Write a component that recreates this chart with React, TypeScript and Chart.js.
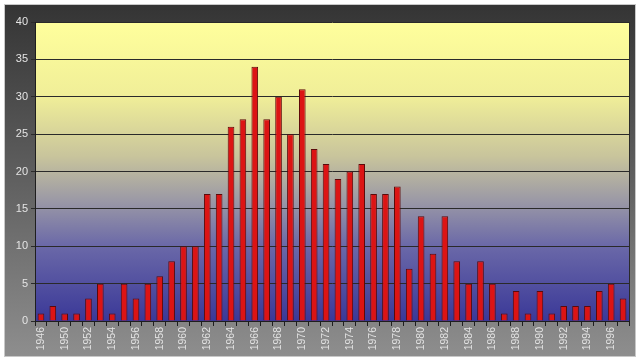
import React, { useEffect, useRef } from "react";
import { Chart, registerables } from "chart.js";

Chart.register(...registerables);

const years: string[] = [
  "1946", "1948", "1950", "1951", "1952", "1953", "1954", "1955", "1956", "1957",
  "1958", "1959", "1960", "1961", "1962", "1963", "1964", "1965", "1966", "1967",
  "1968", "1969", "1970", "1971", "1972", "1973", "1974", "1975", "1976", "1977",
  "1978", "1979", "1980", "1981", "1982", "1983", "1984", "1985", "1986", "1987",
  "1988", "1989", "1990", "1991", "1992", "1993", "1994", "1995", "1996", "1997",
];

const counts: number[] = [
  1, 2, 1, 1, 3, 5, 1, 5, 3, 5,
  6, 8, 10, 10, 17, 17, 26, 27, 34, 27,
  30, 25, 31, 23, 21, 19, 20, 21, 17, 17,
  18, 7, 14, 9, 14, 8, 5, 8, 5, 1,
  4, 1, 4, 1, 2, 2, 2, 4, 5, 3,
];

const yMin = 0;
const yMax = 40;
const yStep = 5;

const framePlugin = {
  id: "frame",
  beforeDraw(chart: any) {
    const { ctx, width, height, chartArea } = chart;
    ctx.save();
    ctx.fillStyle = "#ffffff";
    ctx.fillRect(0, 0, width, height);
    const g = ctx.createLinearGradient(0, 4, 0, 357);
    g.addColorStop(0, "#343434");
    g.addColorStop(0.5, "#606060");
    g.addColorStop(1, "#8e8e8e");
    ctx.fillStyle = g;
    ctx.fillRect(4, 4, 632, 353);
    ctx.strokeStyle = "#c8c8c8";
    ctx.lineWidth = 1;
    ctx.strokeRect(4.5, 4.5, 631, 352);
    const { left, right, top, bottom } = chartArea;
    const pg = ctx.createLinearGradient(0, top, 0, bottom);
    pg.addColorStop(0, "#ffff9c");
    pg.addColorStop(0.25, "#f0ee98");
    pg.addColorStop(0.45, "#c8c49c");
    pg.addColorStop(0.6, "#9a98a6");
    pg.addColorStop(0.75, "#6a68a8");
    pg.addColorStop(1, "#3a3898");
    ctx.fillStyle = pg;
    ctx.fillRect(left, top, right - left, bottom - top);
    ctx.restore();
  },
  afterDraw(chart: any) {
    const { ctx, chartArea } = chart;
    const { right, top, bottom } = chartArea;
    ctx.save();
    ctx.strokeStyle = "#2a2a2a";
    ctx.lineWidth = 1;
    ctx.beginPath();
    ctx.moveTo(right + 0.5, top);
    ctx.lineTo(right + 0.5, bottom);
    ctx.stroke();
    ctx.restore();
  },
};

export default function App() {
  const ref = useRef<HTMLCanvasElement>(null);
  useEffect(() => {
    document.body.style.margin = "0";
    if (!ref.current) return;
    const chart = new Chart(ref.current, {
      type: "bar",
      data: {
        labels: years,
        datasets: [
          {
            data: counts,
            backgroundColor: "#dc1414",
            borderColor: "#5c0a0a",
            borderWidth: 1,
            barPercentage: 0.56,
            categoryPercentage: 1,
          },
        ],
      },
      options: {
        animation: false,
        responsive: false,
        maintainAspectRatio: false,
        layout: { padding: { left: 0, top: 22, right: 11, bottom: 0 } },
        plugins: { legend: { display: false }, tooltip: { enabled: false } },
        scales: {
          x: {
            afterFit: (s: any) => {
              s.height = 41;
            },
            grid: {
              offset: true,
              drawOnChartArea: false,
              color: "#1e1e1e",
              tickLength: 5,
            },
            border: { color: "#1e1e1e", width: 1 },
            ticks: {
              autoSkip: false,
              maxRotation: 90,
              minRotation: 90,
              padding: 1,
              color: "#e2e2e2",
              font: { family: "Arial, 'Liberation Sans'", size: 10.5 },
              callback: (_v: any, i: number) => (i % 2 === 0 ? years[i] : ""),
            },
          },
          y: {
            min: yMin,
            max: yMax,
            afterFit: (s: any) => {
              s.width = 35;
            },
            grid: {
              color: "#2a2a2a",
              lineWidth: 1,
              tickLength: 4,
            },
            border: { color: "#1e1e1e", width: 1 },
            ticks: {
              stepSize: yStep,
              padding: 3,
              color: "#e4e4e4",
              font: { family: "Arial, 'Liberation Sans'", size: 11 },
            },
          },
        },
      },
      plugins: [framePlugin],
    });
    return () => chart.destroy();
  }, []);
  return <canvas ref={ref} width={640} height={362} style={{ display: "block" }} />;
}
